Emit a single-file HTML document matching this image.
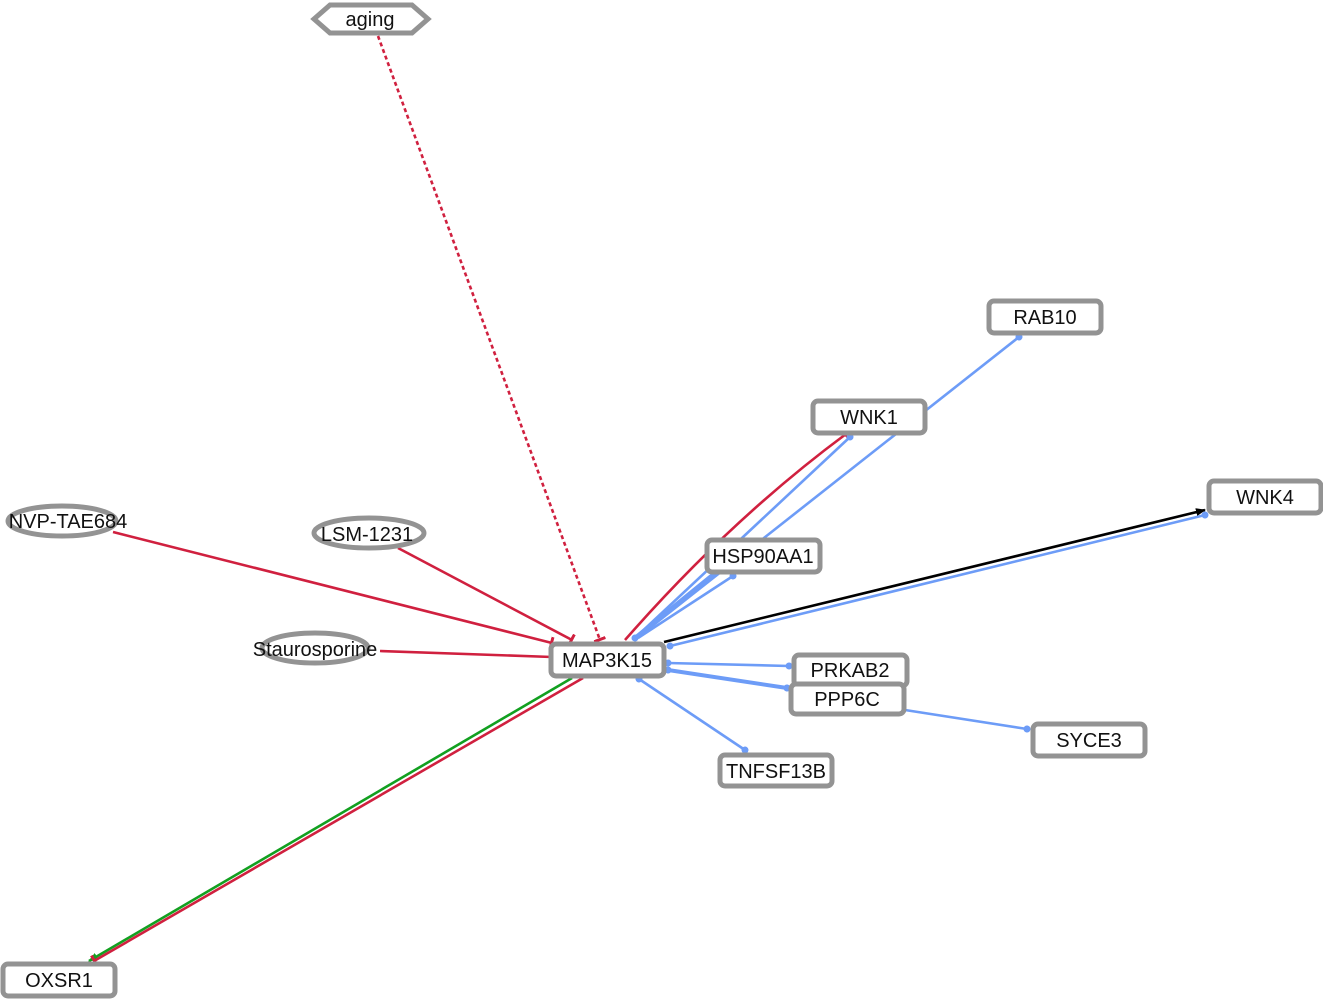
<!DOCTYPE html>
<html><head><meta charset="utf-8"><style>
html,body{margin:0;padding:0;background:#fff;}
svg{display:block;}
text{font-family:"Liberation Sans",sans-serif;font-size:20px;fill:#111;text-anchor:middle;dominant-baseline:central;}
.n{fill:#fff;stroke:#939393;stroke-width:5;}
.r{stroke:#d0203f;stroke-width:2.6;fill:none;}
.b{stroke:#6d9cf7;stroke-width:2.6;fill:none;}
.bt{stroke:#6d9cf7;stroke-width:4;fill:none;}
</style></head><body>
<svg width="1323" height="999" viewBox="0 0 1323 999" xmlns="http://www.w3.org/2000/svg">
<defs>
<marker id="ab" markerWidth="10" markerHeight="8" refX="9" refY="4" orient="auto" markerUnits="userSpaceOnUse"><path d="M0,0 L10,4 L0,8 z" fill="#000"/></marker>
<marker id="ag" markerWidth="10" markerHeight="8" refX="9" refY="4" orient="auto" markerUnits="userSpaceOnUse"><path d="M0,0 L10,4 L0,8 z" fill="#12a020"/></marker>
<marker id="tr" markerWidth="4" markerHeight="12" refX="2" refY="6" orient="auto" markerUnits="userSpaceOnUse"><rect x="0" y="0" width="3" height="12" fill="#d0203f"/></marker>
<marker id="db" markerWidth="8" markerHeight="8" refX="4" refY="4" orient="auto" markerUnits="userSpaceOnUse"><circle cx="4" cy="4" r="3.5" fill="#6d9cf7"/></marker>
</defs>
<line x1="378" y1="36" x2="600" y2="640" class="r" stroke-dasharray="4,3" marker-end="url(#tr)"/>
<line x1="113" y1="532" x2="552" y2="643" class="r" marker-end="url(#tr)"/>
<line x1="398" y1="548" x2="572" y2="640" class="r" marker-end="url(#tr)"/>
<line x1="380" y1="651" x2="552" y2="657" class="r" marker-end="url(#tr)"/>
<path d="M625,640 Q730,520 846,434" class="r" marker-end="url(#tr)"/>
<line x1="635" y1="638" x2="850" y2="437" class="b" marker-end="url(#db)" marker-start="url(#db)"/>
<line x1="637" y1="638" x2="1019" y2="337" class="b" marker-end="url(#db)"/>
<line x1="638" y1="638" x2="733" y2="576" class="b" marker-end="url(#db)"/>
<line x1="636" y1="637" x2="716" y2="572" class="bt"/>
<line x1="664" y1="642" x2="1205" y2="510" stroke="#000" stroke-width="2.6" marker-end="url(#ab)"/>
<line x1="670" y1="646" x2="1205" y2="515" class="b" marker-end="url(#db)" marker-start="url(#db)"/>
<line x1="668" y1="663" x2="789" y2="666" class="b" marker-end="url(#db)" marker-start="url(#db)"/>
<line x1="668" y1="670" x2="787" y2="688" class="bt" marker-end="url(#db)" marker-start="url(#db)"/>
<line x1="905" y1="710" x2="1027" y2="729" class="b" marker-end="url(#db)"/>
<line x1="639" y1="679" x2="745" y2="750" class="b" marker-end="url(#db)" marker-start="url(#db)"/>
<line x1="572" y1="678" x2="89" y2="961" stroke="#12a020" stroke-width="2.6" marker-end="url(#ag)"/>
<line x1="583" y1="678" x2="94" y2="961" class="r" marker-end="url(#tr)"/>
<polygon points="314,19 330,5 412,5 428,19 412,33 330,33" class="n"/>
<text x="370" y="20">aging</text>
<ellipse cx="62" cy="521" rx="54" ry="15" class="n"/><text x="68" y="522">NVP-TAE684</text>
<ellipse cx="369" cy="533" rx="55" ry="15" class="n"/><text x="367" y="535">LSM-1231</text>
<ellipse cx="315" cy="648" rx="53" ry="15" class="n"/><text x="315" y="650">Staurosporine</text>
<rect x="551" y="644" width="113" height="32" rx="5" class="n"/><text x="607" y="661">MAP3K15</text>
<rect x="707" y="540" width="113" height="32" rx="5" class="n"/><text x="763" y="557">HSP90AA1</text>
<rect x="813" y="401" width="112" height="32" rx="5" class="n"/><text x="869" y="418">WNK1</text>
<rect x="989" y="301" width="112" height="32" rx="5" class="n"/><text x="1045" y="318">RAB10</text>
<rect x="1209" y="481" width="112" height="32" rx="5" class="n"/><text x="1265" y="498">WNK4</text>
<rect x="794" y="655" width="113" height="31" rx="5" class="n"/><text x="850" y="671">PRKAB2</text>
<rect x="791" y="684" width="113" height="30" rx="5" class="n"/><text x="847" y="700">PPP6C</text>
<rect x="1033" y="724" width="112" height="32" rx="5" class="n"/><text x="1089" y="741">SYCE3</text>
<rect x="720" y="755" width="112" height="31" rx="5" class="n"/><text x="776" y="772">TNFSF13B</text>
<rect x="3" y="964" width="112" height="32" rx="5" class="n"/><text x="59" y="981">OXSR1</text>
</svg>
</body></html>
